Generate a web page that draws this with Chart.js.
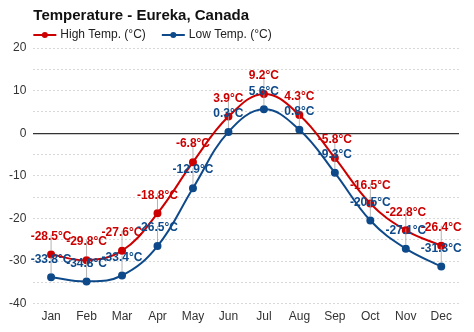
<!DOCTYPE html>
<html>
<head>
<meta charset="utf-8">
<script src="https://cdn.jsdelivr.net/npm/chart.js@4"></script>
<style>
  html, body { margin: 0; padding: 0; background: #fff; }
  canvas { display: block; }
</style>
</head>
<body>
<canvas id="tempChart" width="474" height="332"></canvas>
<script>
const months = ["Jan", "Feb", "Mar", "Apr", "May", "Jun", "Jul", "Aug", "Sep", "Oct", "Nov", "Dec"];
const highTemps = [-28.5, -29.8, -27.6, -18.8, -6.8, 3.9, 9.2, 4.3, -5.8, -16.5, -22.8, -26.4];
const lowTemps = [-33.8, -34.8, -33.4, -26.5, -12.9, 0.3, 5.6, 0.8, -9.3, -20.5, -27.1, -31.3];
const yTicks = [20, 10, 0, -10, -20, -30, -40];

const RED = "#cc0000";
const BLUE = "#0e4a8a";
const FONT = "'Liberation Sans', Arial, sans-serif";

// title + legend drawn by hand so they line up with the plot's left edge
const headerPlugin = {
  id: "header",
  afterDraw(chart) {
    const ctx = chart.ctx;
    const left = chart.chartArea.left;
    ctx.save();
    ctx.fillStyle = "#111";
    ctx.font = "bold 15px " + FONT;
    ctx.textBaseline = "middle";
    ctx.textAlign = "left";
    ctx.fillText("Temperature - Eureka, Canada", left, 16);

    let x = left;
    const y = 35;
    chart.data.datasets.forEach(ds => {
      ctx.strokeStyle = ds.borderColor;
      ctx.lineWidth = 2;
      ctx.beginPath();
      ctx.moveTo(x, y);
      ctx.lineTo(x + 23, y);
      ctx.stroke();
      ctx.fillStyle = ds.borderColor;
      ctx.beginPath();
      ctx.arc(x + 11.5, y, 3, 0, Math.PI * 2);
      ctx.fill();
      ctx.fillStyle = "#222";
      ctx.font = "12px " + FONT;
      ctx.fillText(ds.label, x + 27, y);
      x += 27 + ctx.measureText(ds.label).width + 16;
    });
    ctx.restore();
  }
};

// value labels with short leader lines
const valueLabels = {
  id: "valueLabels",
  afterDatasetsDraw(chart) {
    const ctx = chart.ctx;
    ctx.save();
    chart.data.datasets.forEach((ds, i) => {
      chart.getDatasetMeta(i).data.forEach(pt => {
        ctx.strokeStyle = "rgba(160,160,160,0.8)";
        ctx.lineWidth = 1;
        ctx.beginPath();
        ctx.moveTo(pt.x, pt.y - 4);
        ctx.lineTo(pt.x, pt.y - 20);
        ctx.stroke();
      });
    });
    chart.data.datasets.forEach((ds, i) => {
      ctx.font = "bold 12px " + FONT;
      ctx.textAlign = "center";
      ctx.textBaseline = "middle";
      ctx.fillStyle = ds.borderColor;
      chart.getDatasetMeta(i).data.forEach((pt, j) => {
        ctx.fillText(ds.data[j].toFixed(1) + "°C", pt.x, pt.y - 18);
      });
    });
    ctx.restore();
  }
};

new Chart(document.getElementById("tempChart"), {
  type: "line",
  data: {
    labels: months,
    datasets: [
      {
        label: "High Temp. (°C)",
        data: highTemps,
        borderColor: RED,
        backgroundColor: RED,
        borderWidth: 2,
        pointRadius: 3,
        tension: 0.4
      },
      {
        label: "Low Temp. (°C)",
        data: lowTemps,
        borderColor: BLUE,
        backgroundColor: BLUE,
        borderWidth: 2,
        pointRadius: 3,
        tension: 0.4
      }
    ]
  },
  options: {
    responsive: false,
    animation: false,
    devicePixelRatio: 1,
    layout: { padding: { top: 48, left: 2, right: 15, bottom: 2 } },
    plugins: {
      legend: { display: false },
      title: { display: false },
      tooltip: { enabled: false }
    },
    scales: {
      x: {
        offset: true,
        grid: { display: false, drawTicks: false },
        border: { display: false },
        ticks: { color: "#333", font: { size: 12, family: FONT }, padding: 6, maxRotation: 0, autoSkip: false }
      },
      y: {
        min: -40,
        max: 20,
        border: {
          display: false,
          dash: ctx => ctx.tick && ctx.tick.value === 0 ? [] : [2, 2]
        },
        grid: {
          drawTicks: false,
          color: ctx => ctx.tick && ctx.tick.value === 0 ? "#333" : "#d8d8d8",
          lineWidth: ctx => ctx.tick && ctx.tick.value === 0 ? 1.2 : 1
        },
        ticks: {
          stepSize: 5,
          padding: 7,
          autoSkip: false,
          color: "#333",
          font: { size: 12, family: FONT },
          callback: v => yTicks.includes(v) ? v : ""
        }
      }
    }
  },
  plugins: [headerPlugin, valueLabels]
});
</script>
</body>
</html>
